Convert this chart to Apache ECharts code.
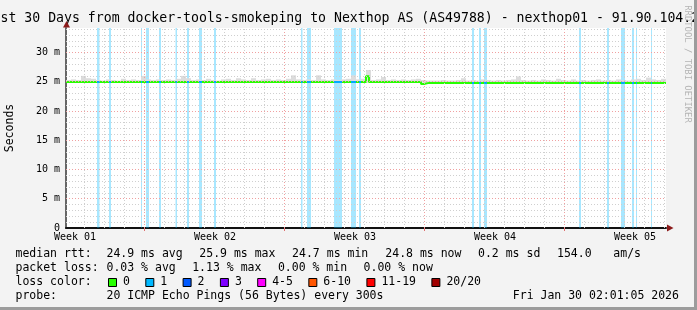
<!DOCTYPE html>
<html><head><meta charset="utf-8">
<script src="https://cdn.jsdelivr.net/npm/echarts@6/dist/echarts.min.js"></script>
<style>html,body{margin:0;padding:0;background:#f3f3f3}#c{width:697px;height:310px}</style>
</head><body><div id="c"></div>
<script>
// ---- data (x in hours since graph start, 30 days = 720 h) ----
const titleText = 'st 30 Days from docker-tools-smokeping to Nexthop AS (AS49788) - nexthop01 - 91.90.104.2';
const yAxisName = 'Seconds';
const yMax = 34.18;
const yTickStep = 5;
const weekLabels = ['Week 01', 'Week 02', 'Week 03', 'Week 04', 'Week 05'];
const weekLabelHours = [10.8, 178.8, 346.8, 514.8, 682.8];
const weekStartHours = [93.96, 261.96, 429.96, 597.96];
const firstMidnightHour = 21.96;
const dayCount = 30;
// loss bands (1 of 20 lost) [start, end] hours
const lossBands = [[37.2,40.2],[51.6,54],[90,91.2],[96,99.6],[111.6,114],[131.4,133.2],[145.2,147.6],[159.6,163.2],[177.6,180],
  [282,283.8],[289.2,294],[321.6,331.2],[342,348],[351.6,354],[487.2,489.6],[495.6,498],[501.6,505.2],
  [615.6,618],[649.2,651.6],[666,670.8],[679.2,681.6],[684,685.2],[702,703.2]];
// median rtt (ms) change points [hour, value]
const medianPts = [[0,24.95],[219.6,25.2],[222,24.95],[360,25.95],[363.6,24.95],[426,24.6],[429.6,24.8],[435.6,24.6],[438,24.8],[720,24.8]];
// smoke upper bound (ms), one value per 6 h
const smokeStep = 6;
const smokeBase = 24.8;
const smokeTop = [25.3,25.4,25.3,26.0,25.6,25.5,25.3,25.2,25.4,25.3,25.2,25.5,25.3,25.4,25.3,26.0,25.4,25.3,25.4,25.3,
  25.4,25.3,25.5,26.0,25.6,25.3,25.4,25.3,25.5,25.3,25.2,25.4,25.5,25.3,25.6,25.4,25.3,25.6,25.3,25.4,
  25.5,25.3,25.4,25.3,25.5,26.1,25.4,25.3,25.4,25.3,26.1,25.4,25.3,25.4,25.3,25.4,25.5,26.1,25.4,25.5,
  27.0,25.3,25.4,25.8,25.3,25.4,25.3,25.4,25.3,25.4,25.5,25.3,25.2,25.2,25.2,25.3,25.2,25.2,25.3,25.6,
  25.2,25.3,25.2,25.4,25.3,25.2,25.3,25.2,25.3,25.4,25.9,25.3,25.2,25.3,25.2,25.4,25.3,25.2,25.5,25.3,
  25.2,25.4,25.2,25.3,25.2,25.3,25.4,25.2,25.3,25.2,25.4,25.3,25.2,25.4,25.5,25.3,25.7,25.4,25.3,25.5];
// legend text
const rttLabel = 'median rtt:';
const rttStats = ['24.9 ms avg', '25.9 ms max', '24.7 ms min', '24.8 ms now', '0.2 ms sd', '154.0', 'am/s'];
const lossLabel = 'packet loss:';
const lossStats = ['0.03 % avg', '1.13 % max', '0.00 % min', '0.00 % now'];
const lossColorLabel = 'loss color:';
const lossColorNames = ['0', '1', '2', '3', '4-5', '6-10', '11-19', '20/20'];
const lossColors = ['#26ff00', '#00b8ff', '#0059ff', '#7e00ff', '#ff00ff', '#ff5500', '#ff0000', '#a10000'];
const probeLabel = 'probe:';
const probeText = '20 ICMP Echo Pings (56 Bytes) every 300s';
const dateText = 'Fri Jan 30 02:01:05 2026';
const watermark = 'RRDTOOL / TOBI OETIKER';

// ---- layout / style ----
const MONO = '"DejaVu Sans Mono", monospace';
const ADV = 6.92;      // monospace advance at legend font size
const GAP = 16.5;      // gap between legend items
const chart = echarts.init(document.getElementById('c'), null, {renderer: 'canvas', width: 697, height: 310});

function medianAt(h) {
  let v = medianPts[0][1];
  for (const p of medianPts) { if (p[0] <= h) v = p[1]; }
  return v;
}

const minorX = [], majorX = [];
for (let k = 0; k < dayCount; k++) {
  const h = firstMidnightHour + 24 * k;
  if (h > 720) break;
  if (weekStartHours.some(w => Math.abs(w - h) < 0.5)) majorX.push(h); else minorX.push(h);
}
const minorY = [], majorY = [];
for (let v = 1; v <= Math.floor(yMax); v++) {
  if (v % yTickStep === 0) majorY.push(v); else minorY.push(v);
}
const dash = [1, 2];
const gridLineData = []
  .concat(minorX.map(h => ({xAxis: h, lineStyle: {color: '#cfcfcf', type: dash, width: 1}})))
  .concat(minorY.map(v => ({yAxis: v, lineStyle: {color: '#cfcfcf', type: dash, width: 1}})))
  .concat(majorX.map(h => ({xAxis: h, lineStyle: {color: '#f0a0a0', type: dash, width: 1}})))
  .concat(majorY.map(v => ({yAxis: v, lineStyle: {color: '#f0a0a0', type: dash, width: 1}})));

const series = [
  {
    type: 'line', data: [], z: 1, silent: true,
    markLine: {silent: true, symbol: ['none', 'none'], animation: false, label: {show: false}, data: gridLineData}
  },
  {
    type: 'line', data: [], z: 2, silent: true,
    markArea: {silent: true, animation: false, itemStyle: {color: 'rgba(0,184,255,0.34)'},
      data: lossBands.map(b => [{xAxis: b[0]}, {xAxis: b[1]}])}
  },
  {
    type: 'custom', z: 3, silent: true,
    data: smokeTop.map((v, i) => [i * smokeStep, v]),
    renderItem: function (params, api) {
      const h = api.value(0), top = api.value(1);
      const p0 = api.coord([h, smokeBase]);
      const p1 = api.coord([h + smokeStep, top]);
      return {type: 'rect', shape: {x: p0[0], y: p1[1], width: p1[0] - p0[0], height: p0[1] - p1[1]}, style: {fill: '#dcdcdc'}};
    }
  },
  {
    type: 'line', z: 4, step: 'end', symbol: 'none', silent: true,
    data: medianPts,
    lineStyle: {color: '#26ff00', width: 2}
  }
];
lossBands.forEach(b => {
  series.push({
    type: 'line', z: 5, symbol: 'none', silent: true,
    data: [[b[0], medianAt(b[0])], [b[1], medianAt(b[0])]],
    lineStyle: {color: '#00a8ff', width: 2}
  });
});

const graphics = [];
graphics.push({type: 'text', x: 0.5, y: 18.7, z: 10, style: {text: titleText, font: '13.2px ' + MONO, fill: '#000', verticalAlign: 'middle'}});
graphics.push({type: 'text', x: 10.5, y: 128, rotation: Math.PI / 2, z: 10, style: {text: yAxisName, font: '11.5px ' + MONO, fill: '#000', align: 'center', verticalAlign: 'middle'}});
graphics.push({type: 'text', x: 687.5, y: 64, rotation: -Math.PI / 2, z: 10, style: {text: watermark, font: '8.9px ' + MONO, fill: '#b4b4b4', align: 'center', verticalAlign: 'middle'}});
// axis arrows (dark red, as in rrdtool)
graphics.push({type: 'polygon', z: 12, shape: {points: [[66.5, 21], [63, 27.5], [70, 27.5]]}, style: {fill: '#8b1a1a'}});
graphics.push({type: 'polygon', z: 12, shape: {points: [[673.5, 228], [667, 224.5], [667, 231.5]]}, style: {fill: '#8b1a1a'}});
const LF = '11.5px ' + MONO;
function txt(x, y, t) { graphics.push({type: 'text', x: x, y: y, z: 10, style: {text: t, font: LF, fill: '#000', verticalAlign: 'middle'}}); }
// row 1
txt(15.5, 254.3, rttLabel);
const rttX = [106.5, 199.3, 292.1, 385.3, 478, 557, 613.3];
rttStats.forEach((t, i) => txt(rttX[i], 254.3, t));
// row 2 (items laid out sequentially)
txt(15.5, 268.3, lossLabel);
let lx = 106.5;
lossStats.forEach(t => { txt(lx, 268.3, t); lx += t.length * ADV + GAP; });
// row 3
txt(15.5, 282.3, lossColorLabel);
let bx = 108.5;
lossColorNames.forEach((n, i) => {
  graphics.push({type: 'rect', z: 10, shape: {x: bx, y: 278.5, width: 8, height: 8}, style: {fill: lossColors[i], stroke: '#000', lineWidth: 1}});
  txt(bx + 14.5, 282.3, n);
  bx += 37.3 + (n.length - 1) * ADV;
});
// row 4
txt(15.5, 296, probeLabel);
txt(106.5, 296, probeText);
txt(512.8, 296, dateText);
// frame
graphics.push({type: 'rect', z: 20, shape: {x: 694, y: 0, width: 3, height: 310}, style: {fill: '#9c9c9c'}});
graphics.push({type: 'rect', z: 20, shape: {x: 0, y: 307, width: 697, height: 3}, style: {fill: '#9c9c9c'}});

chart.setOption({
  animation: false,
  backgroundColor: '#f3f3f3',
  grid: {left: 66, top: 28, width: 600, height: 200, show: true, backgroundColor: '#ffffff', borderWidth: 0, containLabel: false, outerBoundsMode: 'none'},
  xAxis: {
    type: 'value', min: 0, max: 720,
    splitLine: {show: false},
    axisLine: {show: true, lineStyle: {color: '#111', width: 2}},
    axisTick: {show: true, customValues: weekStartHours, length: 3, lineStyle: {color: '#e07070', width: 1}},
    axisLabel: {customValues: weekLabelHours, margin: 4, fontFamily: 'DejaVu Sans Mono', fontSize: 10, color: '#000',
      formatter: v => { const i = weekLabelHours.findIndex(w => Math.abs(w - v) < 0.01); return i >= 0 ? weekLabels[i] : ''; }}
  },
  yAxis: {
    type: 'value', min: 0, max: yMax, interval: yTickStep,
    splitLine: {show: false},
    axisLine: {show: true, lineStyle: {color: '#666', width: 2}},
    axisTick: {show: false},
    axisLabel: {margin: 6, fontFamily: 'DejaVu Sans Mono', fontSize: 10, color: '#000', showMaxLabel: false,
      formatter: v => (v % yTickStep !== 0 ? '' : (v === 0 ? '0' : v + ' m'))}
  },
  graphic: graphics,
  series: series
});
</script></body></html>
